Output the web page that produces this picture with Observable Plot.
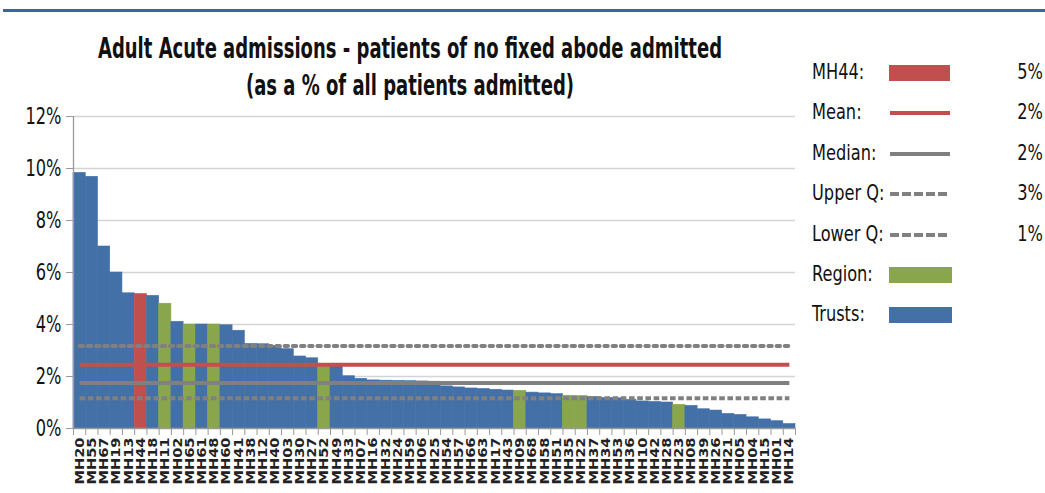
<!DOCTYPE html>
<html>
<head>
<meta charset="utf-8">
<script src="https://cdn.jsdelivr.net/npm/d3@7"></script>
<script src="https://cdn.jsdelivr.net/npm/@observablehq/plot@0.6"></script>
<style>
  html, body { margin: 0; padding: 0; background: #fff; }
  body { width: 1045px; height: 493px; position: relative; overflow: hidden;
         font-family: "Liberation Sans Narrow", "DejaVu Sans Condensed", "Open Sans", sans-serif; color: #111; }
  #topbar { position: absolute; left: 3px; right: 0; top: 9px; height: 3px; background: #40639a; }
  #title { position: absolute; left: 0; width: 820px; top: 30px; text-align: center;
           font-weight: bold; font-size: 20px; line-height: 37px; }
  #title span { display: inline-block; transform: scaleY(1.45); }
  #chart { position: absolute; left: 0; top: 100px; }
  #legend { position: absolute; left: 0; top: 0; width: 1045px; height: 493px; pointer-events: none; }
  .lg { position: absolute; font-size: 18px; }
  .lg span { display: inline-block; transform: scaleY(1.2); }
</style>
</head>
<body>
<div id="topbar"></div>
<div id="title"><span>Adult Acute admissions - patients of no fixed abode admitted</span><br><span>(as a % of all patients admitted)</span></div>
<div id="chart"></div>
<div id="legend"></div>
<script>
const categories = ["MH20","MH55","MH67","MH19","MH13","MH44","MH18","MH11","MH02","MH65",
  "MH61","MH48","MH60","MH41","MH38","MH12","MH40","MH03","MH30","MH27",
  "MH52","MH49","MH33","MH07","MH16","MH32","MH24","MH59","MH06","MH25",
  "MH54","MH57","MH66","MH63","MH17","MH43","MH09","MH68","MH58","MH51",
  "MH35","MH22","MH37","MH34","MH53","MH36","MH10","MH42","MH28","MH23",
  "MH08","MH39","MH26","MH21","MH05","MH04","MH15","MH01","MH14"];
const values = [9.83,9.68,7.0,6.0,5.2,5.17,5.1,4.8,4.1,4.0,
  4.0,4.0,3.97,3.76,3.25,3.24,3.18,3.05,2.77,2.7,
  2.45,2.4,2.01,1.91,1.85,1.84,1.83,1.82,1.81,1.8,
  1.62,1.58,1.54,1.52,1.49,1.46,1.45,1.38,1.35,1.32,
  1.26,1.25,1.21,1.17,1.16,1.1,1.04,1.02,1.0,0.91,
  0.87,0.74,0.69,0.56,0.52,0.43,0.35,0.28,0.17];
const highlightTrust = "MH44";
const regionTrusts = ["MH11","MH65","MH48","MH52","MH09","MH35","MH22","MH23"];
const statNames = ["Mean","Median","Upper Q","Lower Q"];
const statValues = [2.45, 1.75, 3.17, 1.16];
const yTicks = [0, 2, 4, 6, 8, 10, 12];
const legendLabels = ["MH44:","Mean:","Median:","Upper Q:","Lower Q:","Region:","Trusts:"];
const legendValues = ["5%","2%","2%","3%","1%","",""];

const colors = { trust: "#4470a8", highlight: "#c0504d", region: "#8aa64c", grey: "#808080" };

const data = categories.map((c, i) => ({ name: c, value: values[i],
  type: c === highlightTrust ? "highlight" : (regionTrusts.includes(c) ? "region" : "trust") }));

const W = 800, H = 393, mL = 73, mR = 5, mT = 16, mB = 65;
const bw = (W - mL - mR) / categories.length;

const statStyles = {
  "Mean":    { stroke: colors.highlight, strokeWidth: 4, dash: null, cap: "butt" },
  "Median":  { stroke: colors.grey, strokeWidth: 4, dash: null, cap: "butt" },
  "Upper Q": { stroke: colors.grey, strokeWidth: 4, dash: "3.4,4.8", cap: "round" },
  "Lower Q": { stroke: colors.grey, strokeWidth: 4, dash: "5.6,2.6", cap: "butt" }
};
const statLines = statNames.map((n, i) => {
  const s = statStyles[n];
  return Plot.lineY(categories, { x: d => d, y: () => statValues[i], stroke: s.stroke,
    strokeWidth: s.strokeWidth, strokeDasharray: s.dash, strokeLinecap: s.cap });
});

const chart = Plot.plot({
  width: W, height: H,
  marginLeft: mL, marginRight: mR, marginTop: mT, marginBottom: mB,
  style: { fontFamily: '"Liberation Sans Narrow", "DejaVu Sans Condensed", sans-serif', background: "white", color: "#111" },
  x: { type: "band", domain: categories, padding: 0, round: false, label: null },
  y: { domain: [0, 12], label: null },
  marks: [
    Plot.gridY(yTicks.slice(1), { stroke: "#d4d4d4", strokeOpacity: 1, strokeWidth: 1.4 }),
    Plot.barY(data, { x: "name", y: "value", fill: d => colors[d.type], stroke: d => colors[d.type], strokeWidth: 0.6, inset: 0 }),
    ...statLines,
    Plot.ruleY([0], { stroke: "#9a9a9a", strokeWidth: 1.3 }),
    Plot.ruleX([categories[0]], { x: d => d, y1: 0, y2: 12, dx: -bw / 2, stroke: "#9a9a9a", strokeWidth: 1.3 }),
    Plot.axisY({ ticks: yTicks, tickFormat: d => d + "%", tickSize: 7, tickPadding: 5, fontSize: 18, stroke: "#9a9a9a", fill: "#111", label: null }),
    Plot.axisX({ tickSize: 7, dx: -bw / 2, text: null, stroke: "#9a9a9a", label: null }),
    Plot.axisX([categories[categories.length - 1]], { tickSize: 7, dx: bw / 2, text: null, stroke: "#9a9a9a", label: null }),
    Plot.axisX({ tickSize: 0, tickRotate: -90, tickPadding: 9, fontSize: 12.5, fontWeight: "bold", fill: "#222", label: null })
  ]
});
document.getElementById("chart").appendChild(chart);

// stretch axis texts to mimic the reference's tall lettering
d3.select(chart).selectAll('g[aria-label="x-axis tick label"] text').each(function() {
  const t = d3.select(this);
  t.attr("transform", (t.attr("transform") || "") + " scale(1.3,1)");
});
d3.select(chart).selectAll('g[aria-label="y-axis tick label"] text').each(function() {
  const t = d3.select(this);
  t.attr("transform", (t.attr("transform") || "") + " scale(1,1.25)");
});

// legend
const legend = document.getElementById("legend");
const rowY = [73, 113, 154, 194, 235, 275, 315];
const swatchKinds = ["rect-highlight", "Mean", "Median", "Upper Q", "Lower Q", "rect-region", "rect-trust"];
legendLabels.forEach((lab, i) => {
  const y = rowY[i];
  const l = document.createElement("div");
  l.className = "lg"; l.style.left = "812px"; l.style.top = (y - 12) + "px";
  l.innerHTML = "<span>" + lab + "</span>";
  legend.appendChild(l);
  const kind = swatchKinds[i];
  const svg = d3.create("svg").attr("width", 66).attr("height", 20)
    .style("position", "absolute").style("left", "888px").style("top", (y - 10) + "px");
  if (kind.startsWith("rect")) {
    const c = kind === "rect-highlight" ? colors.highlight : kind === "rect-region" ? colors.region : colors.trust;
    svg.append("rect").attr("x", 1).attr("y", 2).attr("width", kind === "rect-highlight" ? 61 : 63).attr("height", 16).attr("fill", c);
  } else {
    const s = statStyles[kind];
    svg.append("line").attr("x1", 2).attr("x2", 62).attr("y1", 10).attr("y2", 10)
      .attr("stroke", s.stroke).attr("stroke-width", s.strokeWidth)
      .attr("stroke-dasharray", kind.endsWith("Q") ? "9,3" : null);
  }
  legend.appendChild(svg.node());
  if (legendValues[i]) {
    const v = document.createElement("div");
    v.className = "lg"; v.style.left = "990px"; v.style.width = "53px"; v.style.textAlign = "right";
    v.style.top = (y - 12) + "px";
    v.innerHTML = "<span>" + legendValues[i] + "</span>";
    legend.appendChild(v);
  }
});
</script>
</body>
</html>
